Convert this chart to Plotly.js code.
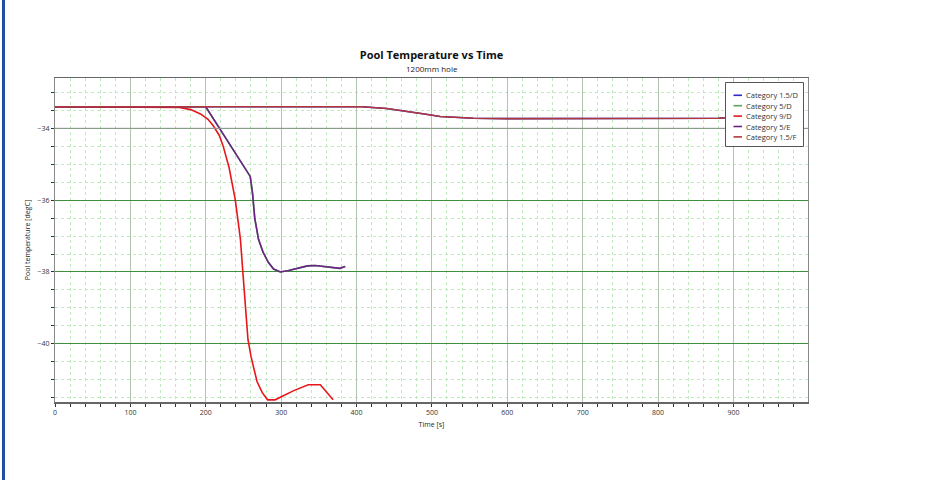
<!DOCTYPE html>
<html>
<head>
<meta charset="utf-8">
<script src="https://cdn.plot.ly/plotly-3.0.1.min.js"></script>
<style>
  html, body { margin: 0; padding: 0; background: #fff; }
  #wrap { position: relative; width: 926px; height: 480px; }
  #bar { position: absolute; left: 2px; top: 0; width: 3px; height: 480px; background: #1f4ea8; z-index: 5; }
  #chart { position: absolute; left: 0; top: 0; width: 926px; height: 480px; }
</style>
</head>
<body>
<div id="wrap"><div id="bar"></div><div id="chart"></div></div>
<script>
// ---- data ----
const seriesNames = ["Category 1.5/D", "Category 5/D", "Category 9/D", "Category 5/E", "Category 1.5/F"];

const time15D = [0, 407, 440, 467, 490, 511, 530, 555, 600, 700, 800, 860, 880, 900];
const temp15D = [-33.4, -33.4, -33.45, -33.52, -33.6, -33.67, -33.7, -33.72, -33.73, -33.73, -33.73, -33.74, -33.72, -33.69];

const time5D = [0, 200, 259, 262, 265, 270, 276, 283, 290, 299, 310, 321, 335, 345, 358, 369, 378, 385];
const temp5D = [-33.4, -33.4, -35.34, -35.8, -36.5, -37.09, -37.45, -37.73, -37.92, -38.0, -37.96, -37.9, -37.83, -37.82, -37.85, -37.87, -37.9, -37.85];

const time9D = [0, 150, 165, 180, 193, 203, 210, 218, 223, 231, 239, 243, 246, 251, 256, 260, 263, 268, 275, 282, 292, 316, 336, 352, 369];
const temp9D = [-33.4, -33.4, -33.42, -33.48, -33.6, -33.75, -33.93, -34.2, -34.49, -35.1, -35.97, -36.6, -37.09, -38.5, -39.88, -40.35, -40.64, -41.05, -41.36, -41.56, -41.56, -41.31, -41.14, -41.14, -41.56];

const time5E = [0, 200, 259, 262, 265, 270, 276, 283, 290, 299, 310, 321, 335, 345, 358, 369, 378, 385];
const temp5E = [-33.4, -33.4, -35.34, -35.8, -36.5, -37.09, -37.45, -37.73, -37.92, -38.0, -37.96, -37.9, -37.83, -37.82, -37.85, -37.87, -37.9, -37.85];

const time15F = [0, 407, 440, 467, 490, 511, 530, 555, 600, 700, 800, 860, 880, 900];
const temp15F = [-33.4, -33.4, -33.45, -33.52, -33.6, -33.67, -33.7, -33.72, -33.73, -33.73, -33.73, -33.74, -33.72, -33.69];

const xTickVals = [0, 100, 200, 300, 400, 500, 600, 700, 800, 900];
const yTickVals = [-34, -36, -38, -40];

// ---- styling ----
const colors = ["#2a2ac8", "#5aa55a", "#e8161b", "#6b2485", "#b0383c"];
const xs = [time15D, time5D, time9D, time5E, time15F];
const ys = [temp15D, temp5D, temp9D, temp5E, temp15F];

const FONT = "Open Sans, Noto Sans, sans-serif";

const traces = seriesNames.map((n, i) => ({
  x: xs[i], y: ys[i], name: n, type: "scatter", mode: "lines",
  line: { color: colors[i], width: 1.6 },
  hoverinfo: "skip", showlegend: false
}));

// plot-area geometry (pixels) used to place a compact legend
const M = { l: 55, r: 118, t: 78, b: 78 };
const PW = 926 - M.l - M.r, PH = 480 - M.t - M.b;
const px2x = p => (p - M.l) / PW;
const py2y = p => 1 - (p - M.t) / PH;

const shapes = [{
  type: "line", xref: "paper", x0: 0, x1: 1, yref: "y", y0: -34, y1: -34,
  line: { color: "#a0a0a0", width: 1 }, layer: "above"
}, {
  type: "rect", xref: "paper", yref: "paper",
  x0: px2x(725.5), x1: px2x(803.5), y0: py2y(146.5), y1: py2y(82.5),
  fillcolor: "#fff", line: { color: "#555", width: 1 }, layer: "above"
}];
const annotations = [{
  text: "1200mm hole", xref: "paper", yref: "paper", x: 0.5, y: py2y(68),
  xanchor: "center", yanchor: "middle", showarrow: false,
  font: { family: FONT, size: 8, color: "#222" }
}];
seriesNames.forEach((n, i) => {
  const cy = 95.3 + i * 10.4;
  shapes.push({
    type: "line", xref: "paper", yref: "paper",
    x0: px2x(733.5), x1: px2x(742), y0: py2y(cy), y1: py2y(cy),
    line: { color: colors[i], width: 1.6 }, layer: "above"
  });
  annotations.push({
    text: n, xref: "paper", yref: "paper", x: px2x(744), y: py2y(cy),
    xanchor: "left", yanchor: "middle", showarrow: false,
    font: { family: FONT, size: 7.5, color: "#333" }
  });
});

const layout = {
  width: 926, height: 480,
  margin: { l: M.l, r: M.r, t: M.t, b: M.b, pad: 0 },
  paper_bgcolor: "#fff", plot_bgcolor: "#fff",
  font: { family: FONT, size: 7, color: "#333" },
  showlegend: false,
  title: {
    text: "<b>Pool Temperature vs Time</b>",
    font: { family: FONT, size: 11, color: "#111" },
    x: 0.5, xref: "paper", xanchor: "center",
    y: 1 - 55 / 480, yref: "container", yanchor: "middle"
  },
  annotations: annotations,
  xaxis: {
    range: [0, 999], tickmode: "array", tickvals: xTickVals,
    ticks: "outside", ticklen: 3, tickcolor: "#333", tickwidth: 1,
    showgrid: true, gridcolor: "#b0c4b0", gridwidth: 1,
    zeroline: false, showline: true, linecolor: "#666", linewidth: 1.5, mirror: true,
    tickfont: { size: 7, color: "#333" },
    title: { text: "Time [s]", font: { size: 7, color: "#222" }, standoff: 6 },
    minor: { dtick: 20, tick0: 0, ticks: "outside", ticklen: 3, tickcolor: "#333",
             showgrid: true, gridcolor: "#bfe9bf", griddash: "dot", gridwidth: 1 }
  },
  yaxis: {
    range: [-41.62, -32.6], tickmode: "array", tickvals: yTickVals,
    ticks: "outside", ticklen: 3, tickcolor: "#333", tickwidth: 1,
    showgrid: true, gridcolor: "#3f8f3f", gridwidth: 1,
    zeroline: false, showline: true, linecolor: "#888", linewidth: 1, mirror: true,
    tickfont: { size: 7, color: "#333" },
    title: { text: "Pool temperature [degC]", font: { size: 7, color: "#222" }, standoff: 6 },
    minor: { dtick: 0.5, tick0: -34, ticks: "outside", ticklen: 3, tickcolor: "#333",
             showgrid: true, gridcolor: "#bfe9bf", griddash: "dot", gridwidth: 1 }
  },
  shapes: shapes
};

Plotly.newPlot("chart", traces, layout, { displayModeBar: false, staticPlot: true });
</script>
</body>
</html>
